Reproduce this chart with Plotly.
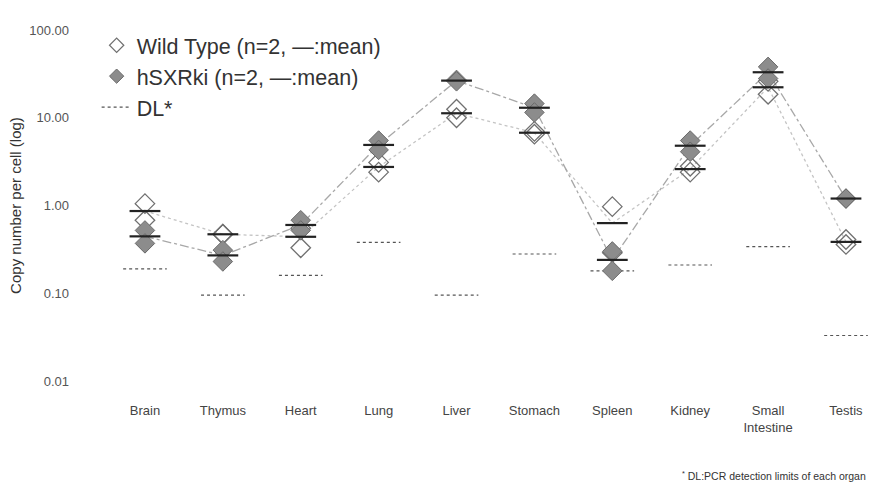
import plotly.graph_objects as go

categories = ["Brain", "Thymus", "Heart", "Lung", "Liver", "Stomach", "Spleen",
              "Kidney", "Small<br>Intestine", "Testis"]
wt_rep1 = [1.05, 0.47, 0.55, 3.1, 12.5, 7.0, 0.97, 2.8, 18.5, 0.41]
wt_rep2 = [0.68, 0.47, 0.33, 2.4, 10.0, 6.5, 0.29, 2.4, 26.0, 0.36]
hsxr_rep1 = [0.52, 0.31, 0.68, 5.5, 27.0, 14.5, 0.30, 5.5, 38.0, 1.2]
hsxr_rep2 = [0.37, 0.23, 0.52, 4.3, 26.0, 11.5, 0.18, 4.1, 28.0, 1.2]
dl_values = [0.19, 0.095, 0.16, 0.38, 0.095, 0.28, 0.18, 0.21, 0.34, 0.033]
y_ticks = [0.01, 0.1, 1, 10, 100]

xi = list(range(len(categories)))
wt_mean = [(a + b) / 2 for a, b in zip(wt_rep1, wt_rep2)]
hs_mean = [(a + b) / 2 for a, b in zip(hsxr_rep1, hsxr_rep2)]

FONT = "Liberation Sans, Arial, sans-serif"
fig = go.Figure()

# connecting lines through means
fig.add_trace(go.Scatter(x=xi, y=wt_mean, mode="lines", showlegend=False,
                         line=dict(color="#c4c4c4", width=1.3, dash="dot"), hoverinfo="skip"))
fig.add_trace(go.Scatter(x=xi, y=hs_mean, mode="lines", showlegend=False,
                         line=dict(color="#a8a8a8", width=1.3, dash="dashdot"), hoverinfo="skip"))

# DL segments
dlx, dly = [], []
for i, v in zip(xi, dl_values):
    dlx += [i - 0.28, i + 0.28, None]
    dly += [v, v, None]
fig.add_trace(go.Scatter(x=dlx, y=dly, mode="lines", name="DL*", legendrank=3,
                         legendgroup="c",
                         line=dict(color="#555555", width=1.2, dash="3px,3px"), hoverinfo="skip"))

# replicate points
fig.add_trace(go.Scatter(x=xi + xi, y=wt_rep1 + wt_rep2, mode="markers", showlegend=False,
                         marker=dict(symbol="diamond-open", size=15, color="#707070",
                                     line=dict(width=1.3, color="#707070"))))
fig.add_trace(go.Scatter(x=xi + xi, y=hsxr_rep1 + hsxr_rep2, mode="markers", showlegend=False,
                         marker=dict(symbol="diamond", size=15, color="#8c8c8c",
                                     line=dict(width=1, color="#6a6a6a"))))

# legend-only entries with smaller symbols
fig.add_trace(go.Scatter(x=[None], y=[None], mode="markers", legendrank=1, legendgroup="a",
                         name="Wild Type (n=2, \u2014:mean)",
                         marker=dict(symbol="diamond-open", size=11, color="#707070",
                                     line=dict(width=1.2, color="#707070"))))
fig.add_trace(go.Scatter(x=[None], y=[None], mode="markers", legendrank=2, legendgroup="b",
                         name="hSXRki (n=2, \u2014:mean)",
                         marker=dict(symbol="diamond", size=11, color="#8c8c8c",
                                     line=dict(width=1, color="#6a6a6a"))))

# mean bars
for m in (wt_mean, hs_mean):
    fig.add_trace(go.Scatter(x=xi, y=m, mode="markers", showlegend=False,
                             marker=dict(symbol="line-ew", size=22,
                                         line=dict(width=2.2, color="#222222")),
                             hoverinfo="skip"))

fig.update_layout(
    width=872, height=490,
    margin=dict(l=80, r=0, t=30, b=109),
    paper_bgcolor="white", plot_bgcolor="white",
    font=dict(family=FONT, color="#444444"),
    legend=dict(x=0.021, y=1.015, xanchor="left", yanchor="top",
                font=dict(size=21.5, color="#333333"), traceorder="grouped",
                bgcolor="rgba(0,0,0,0)", itemwidth=30, tracegroupgap=0),
    annotations=[dict(text="<sup>*</sup> DL:PCR detection limits of each organ",
                      xref="paper", yref="paper", x=0.995, y=-0.27,
                      xanchor="right", yanchor="middle", showarrow=False,
                      font=dict(size=10.5, color="#333333"))],
)
fig.update_xaxes(range=[-0.834, 9.334], tickvals=xi, ticktext=categories,
                 showgrid=False, zeroline=False, showline=False,
                 tickfont=dict(size=13, color="#444444"), ticklabelstandoff=20, ticks="")
fig.update_yaxes(type="log", range=[-2, 2], tickvals=y_ticks, tickformat=".2f",
                 showgrid=False, zeroline=False, showline=False, ticks="",
                 tickfont=dict(size=13, color="#555555"), ticklabelstandoff=10,
                 title=dict(text="Copy number per cell (log)", font=dict(size=15, color="#333333"),
                            standoff=3))

fig.write_html("out.html", post_script="document.body.style.margin='0';",
               config={"displayModeBar": False})
